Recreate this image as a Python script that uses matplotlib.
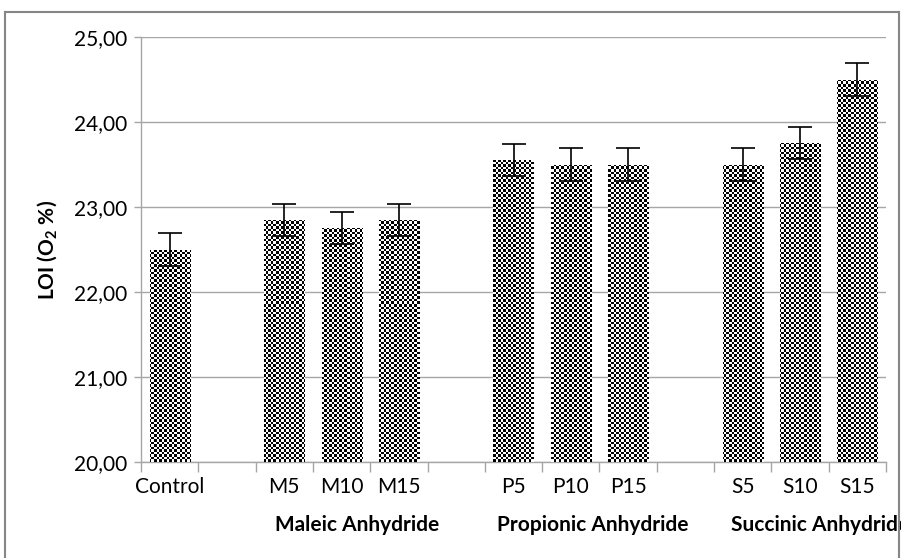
import numpy as np
import matplotlib
matplotlib.use("Agg")
import matplotlib.pyplot as plt
from matplotlib.lines import Line2D

plt.rcParams['font.family'] = ['Lato', 'DejaVu Sans']
plt.rcParams['mathtext.fontset'] = 'custom'
plt.rcParams['mathtext.rm'] = 'Lato'
plt.rcParams['mathtext.bf'] = 'Lato:bold'

categories = ["Control", "", "M5", "M10", "M15", "", "P5", "P10", "P15", "", "S5", "S10", "S15"]
values = [22.5, np.nan, 22.85, 22.75, 22.85, np.nan, 23.55, 23.5, 23.5, np.nan, 23.5, 23.75, 24.5]
errors = [0.19, np.nan, 0.19, 0.19, 0.19, np.nan, 0.19, 0.19, 0.19, np.nan, 0.19, 0.19, 0.19]
groups = ["Maleic Anhydride", "Propionic Anhydride", "Succinic Anhydride"]
group_x = [1.84, 5.71, 9.80]
yticks = [20, 21, 22, 23, 24, 25]

FS = 15
W, H = 901, 558
fig = plt.figure(figsize=(W / 100, H / 100), dpi=100)
ax = fig.add_axes([141 / W, 1 - 462 / H, (886 - 141) / W, (462 - 37) / H])

x = np.arange(len(categories))
vals = np.array(values, dtype=float)
errs = np.array(errors, dtype=float)
mask = ~np.isnan(vals)

bars = ax.bar(x[mask], vals[mask] - 20, bottom=20, width=0.7, color='white',
              edgecolor='none', zorder=2)

# checkerboard fill clipped to bars
ax.set_xlim(-0.5, len(categories) - 0.5)
ax.set_ylim(20, 25)
npx_w, npx_h = 886 - 141, 462 - 37
cell = 2.5
nx, ny = int(npx_w / cell), int(npx_h / cell)
checker = (np.add.outer(np.arange(ny), np.arange(nx)) % 2).astype(float)
for b in bars:
    im = ax.imshow(checker, cmap='gray', vmin=0, vmax=1, interpolation='nearest',
                   extent=(-0.5, len(categories) - 0.5, 20, 25), aspect='auto',
                   zorder=3)
    im.set_clip_path(b)

ax.errorbar(x[mask], vals[mask], yerr=errs[mask], fmt='none', ecolor='black',
            elinewidth=1.2, capsize=8.5, capthick=1.2, zorder=4)

ax.set_yticks(yticks)
ax.set_yticklabels([f"{v:.2f}".replace('.', ',') for v in yticks], fontsize=FS)
ax.yaxis.grid(True, color='#a6a6a6', linewidth=1.0, zorder=0)
ax.set_axisbelow(True)

ax.set_xticks(x)
ax.set_xticklabels(categories, fontsize=FS)
ax.set_xticks(np.arange(-0.5, len(categories)), minor=True)
ax.tick_params(axis='x', which='major', length=0, pad=11)
ax.tick_params(axis='x', which='minor', length=7, color='#a6a6a6', width=1)
ax.tick_params(axis='y', which='major', length=5, color='#a6a6a6', width=1, pad=5)

for s in ['top', 'right']:
    ax.spines[s].set_visible(False)
for s in ['left', 'bottom']:
    ax.spines[s].set_color('#a6a6a6')
    ax.spines[s].set_linewidth(1)

ax.set_ylabel(r'LOI (O$_{\mathbf{2}}$ %)', fontsize=FS, fontweight='bold', labelpad=10)

for g, gx in zip(groups, group_x):
    ax.text(gx, 20 - 0.62, g, ha='left', va='top', fontsize=FS,
            fontweight='bold', clip_on=False)

# figure border
bc = '#868686'
fig.add_artist(Line2D([5 / W, 5 / W], [0, 1 - 12 / H], color=bc, lw=1.5, transform=fig.transFigure))
fig.add_artist(Line2D([5 / W, 899 / W], [1 - 12 / H, 1 - 12 / H], color=bc, lw=1.5, transform=fig.transFigure))
fig.add_artist(Line2D([899 / W, 899 / W], [0, 1 - 12 / H], color=bc, lw=1.5, transform=fig.transFigure))

fig.savefig("out.png", dpi=100)
